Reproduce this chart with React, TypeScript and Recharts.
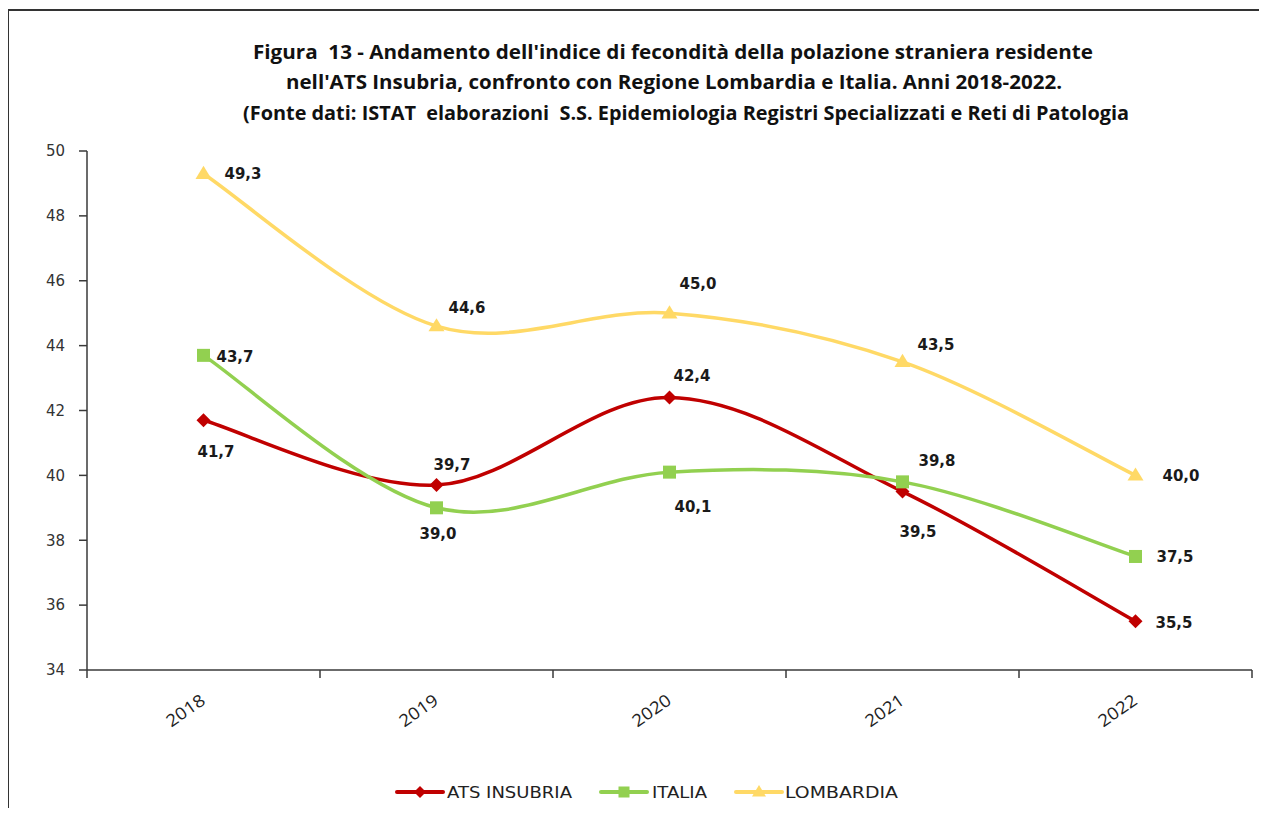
import React from 'react';
import { LineChart, Line, XAxis, YAxis } from 'recharts';

const years = ['2018', '2019', '2020', '2021', '2022'];
const atsInsubria = [41.7, 39.7, 42.4, 39.5, 35.5];
const italia = [43.7, 39.0, 40.1, 39.8, 37.5];
const lombardia = [49.3, 44.6, 45.0, 43.5, 40.0];
const yTicks = [34, 36, 38, 40, 42, 44, 46, 48, 50];
const seriesNames = ['ATS INSUBRIA', 'ITALIA', 'LOMBARDIA'];
const titleLines = [
  "Figura  13 - Andamento dell'indice di fecondità della polazione straniera residente",
  "nell'ATS Insubria, confronto con Regione Lombardia e Italia. Anni 2018-2022.",
  '(Fonte dati: ISTAT  elaborazioni  S.S. Epidemiologia Registri Specializzati e Reti di Patologia',
];

// label offsets (dx to label left edge, dy to label centre) per point
const atsLabelOffsets = [[-6, 31], [-3, -21], [4, -22], [-3, 40], [20, 1]];
const italiaLabelOffsets = [[13, 1], [-17, 26], [5, 34], [16, -21], [21, 0]];
const lombardiaLabelOffsets = [[21, 0], [12, -19], [10, -30], [15, -17], [27, 0]];

const RED = '#C00000';
const GREEN = '#92D050';
const YELLOW = '#FFD966';
const AXIS = '#3a3a3a';

const CHART_W = 1259;
const CHART_H = 800;
const MARGIN = { top: 141, right: 15, left: 0, bottom: 80 };
const Y_WIDTH = 79;
const HALF_BAND = (CHART_W - Y_WIDTH - MARGIN.right) / years.length / 2;

// Excel-like smoothed line (Catmull-Rom)
const smoothCurve: any = (context: any) => {
  let pts: number[][] = [];
  return {
    areaStart() {},
    areaEnd() {},
    lineStart() { pts = []; },
    point(x: number, y: number) { pts.push([+x, +y]); },
    lineEnd() {
      if (!pts.length) return;
      context.moveTo(pts[0][0], pts[0][1]);
      const t = 1 / 6;
      for (let i = 0; i < pts.length - 1; i++) {
        const p0 = pts[i - 1] || pts[i];
        const p1 = pts[i];
        const p2 = pts[i + 1];
        const p3 = pts[i + 2] || pts[i + 1];
        context.bezierCurveTo(
          p1[0] + (p2[0] - p0[0]) * t, p1[1] + (p2[1] - p0[1]) * t,
          p2[0] - (p3[0] - p1[0]) * t, p2[1] - (p3[1] - p1[1]) * t,
          p2[0], p2[1]
        );
      }
    },
  };
};

const fmt = (v: number) => v.toFixed(1).replace('.', ',');

const Diamond = ({ cx, cy, color, r = 7 }: any) => (
  <polygon points={`${cx},${cy - r} ${cx + r},${cy} ${cx},${cy + r} ${cx - r},${cy}`} fill={color} />
);
const Square = ({ cx, cy, color, r = 6.5 }: any) => (
  <rect x={cx - r} y={cy - r} width={2 * r} height={2 * r} fill={color} />
);
const Triangle = ({ cx, cy, color, r = 8 }: any) => (
  <polygon points={`${cx},${cy - r} ${cx + r},${cy + r * 0.65} ${cx - r},${cy + r * 0.65}`} fill={color} />
);

const makeLabel = (offsets: number[][]) => (p: any) => {
  const { x, y, value, index } = p;
  const o = offsets[index] || [10, 0];
  return (
    <text
      key={`l-${index}`}
      x={x + o[0]}
      y={y + o[1] + 5.5}
      fontFamily="DejaVu Sans"
      fontWeight="bold"
      fontSize={15}
      fill="#1a1a1a"
      textAnchor="start"
    >
      {fmt(value)}
    </text>
  );
};

const XTick = (props: any) => {
  const { x, y, payload, index } = props;
  return (
    <g>
      <line x1={x - HALF_BAND} y1={y} x2={x - HALF_BAND} y2={y + 8} stroke={AXIS} strokeWidth={1.5} />
      {index === years.length - 1 && (
        <line x1={x + HALF_BAND} y1={y} x2={x + HALF_BAND} y2={y + 8} stroke={AXIS} strokeWidth={1.5} />
      )}
      <text
        transform={`translate(${x + 3},${y + 33}) rotate(-35)`}
        textAnchor="end"
        fontFamily="Open Sans"
        fontSize={17}
        fill="#222"
        textLength={43}
        lengthAdjust="spacingAndGlyphs"
      >
        {payload.value}
      </text>
    </g>
  );
};

export default function App() {
  const data = years.map((y, i) => ({
    year: y,
    ats: atsInsubria[i],
    italia: italia[i],
    lombardia: lombardia[i],
  }));

  const titleLayout = [
    { x: 253, y: 59, len: 840 },
    { x: 286, y: 89, len: 776 },
    { x: 243, y: 120, len: 886 },
  ];

  const legendItems = [
    { name: seriesNames[0], color: RED, lx: 397, tx: 447, tl: 125, marker: 'diamond' },
    { name: seriesNames[1], color: GREEN, lx: 601, tx: 652, tl: 55, marker: 'square' },
    { name: seriesNames[2], color: YELLOW, lx: 736, tx: 785, tl: 113, marker: 'triangle' },
  ];

  return (
    <div style={{ position: 'relative', width: CHART_W, height: 800, overflow: 'hidden' }}>
      <div
        style={{
          position: 'absolute',
          left: -1,
          top: 1,
          width: CHART_W + 10,
          height: 820,
          borderLeft: '2px solid #333',
          borderTop: '2px solid #333',
          boxSizing: 'border-box',
        }}
      />
      <div style={{ position: 'absolute', left: 0, top: 2 }}>
        <LineChart
          width={CHART_W}
          height={CHART_H}
          data={data}
          margin={MARGIN}
          accessibilityLayer={false}
          style={{ outline: 'none' }}
        >
          <XAxis
            dataKey="year"
            padding={{ left: HALF_BAND, right: HALF_BAND }}
            tickLine={false}
            tickSize={0}
            tickMargin={0}
            height={60}
            axisLine={{ stroke: AXIS, strokeWidth: 1.5 }}
            tick={<XTick />}
            interval={0}
          />
          <YAxis
            domain={[34, 50]}
            ticks={yTicks}
            width={Y_WIDTH}
            tickSize={8}
            tickMargin={14}
            axisLine={{ stroke: AXIS, strokeWidth: 1.5 }}
            tickLine={{ stroke: AXIS, strokeWidth: 1.5 }}
            tick={{ fontFamily: 'DejaVu Sans', fontSize: 15, fill: '#333' }}
            interval={0}
          />
          <Line
            dataKey="ats"
            type={smoothCurve}
            stroke={RED}
            strokeWidth={3.5}
            isAnimationActive={false}
            dot={(p: any) => <Diamond key={`d-${p.index}`} cx={p.cx} cy={p.cy} color={RED} />}
            label={makeLabel(atsLabelOffsets)}
          />
          <Line
            dataKey="italia"
            type={smoothCurve}
            stroke={GREEN}
            strokeWidth={3.5}
            isAnimationActive={false}
            dot={(p: any) => <Square key={`s-${p.index}`} cx={p.cx} cy={p.cy} color={GREEN} />}
            label={makeLabel(italiaLabelOffsets)}
          />
          <Line
            dataKey="lombardia"
            type={smoothCurve}
            stroke={YELLOW}
            strokeWidth={3.5}
            isAnimationActive={false}
            dot={(p: any) => <Triangle key={`t-${p.index}`} cx={p.cx} cy={p.cy} color={YELLOW} />}
            label={makeLabel(lombardiaLabelOffsets)}
          />
        </LineChart>
      </div>
      <svg
        width={CHART_W}
        height={800}
        style={{ position: 'absolute', left: 0, top: 0, pointerEvents: 'none' }}
      >
        <g transform="translate(-8,-8)">
          {titleLines.map((t, i) => (
            <text
              key={i}
              x={titleLayout[i].x}
              y={titleLayout[i].y}
              fontFamily="Open Sans"
              fontWeight="bold"
              fontSize={19.5}
              fill="#111"
              textLength={titleLayout[i].len}
              lengthAdjust="spacingAndGlyphs"
              style={{ whiteSpace: 'pre' }}
            >
              {t}
            </text>
          ))}
          {legendItems.map((it) => {
            const cx = it.lx + 23;
            const cy = 792;
            return (
              <g key={it.name}>
                <line x1={it.lx} y1={cy} x2={it.lx + 46} y2={cy} stroke={it.color} strokeWidth={4} strokeLinecap="round" />
                {it.marker === 'diamond' && <Diamond cx={cx} cy={cy} color={it.color} r={6} />}
                {it.marker === 'square' && <Square cx={cx} cy={cy} color={it.color} r={5.5} />}
                {it.marker === 'triangle' && <Triangle cx={cx} cy={cy} color={it.color} r={7} />}
                <text
                  x={it.tx}
                  y={cy + 6}
                  fontFamily="DejaVu Sans"
                  fontSize={15}
                  fill="#222"
                  textLength={it.tl}
                  lengthAdjust="spacingAndGlyphs"
                >
                  {it.name}
                </text>
              </g>
            );
          })}
        </g>
      </svg>
    </div>
  );
}
